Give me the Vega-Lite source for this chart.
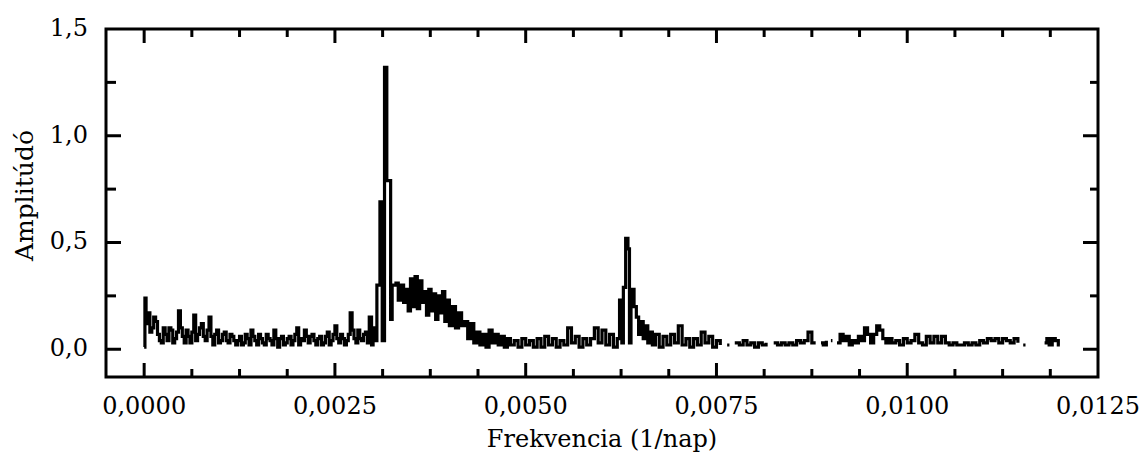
{
  "$schema": "https://vega.github.io/schema/vega-lite/v6.json",
  "width": 992,
  "height": 348,
  "autosize": "none",
  "padding": {"left": 106, "top": 29, "right": 43, "bottom": 80},
  "background": "white",
  "config": {
    "view": {"stroke": "black", "strokeWidth": 3},
    "font": "DejaVu Serif",
    "text": {"font": "DejaVu Serif", "fontSize": 24, "color": "black"},
    "rule": {"color": "black", "strokeWidth": 3}
  },
  "datasets": {
    "xticks": [
      {"t": 0, "k": "major"}, {"t": 0.000625, "k": "minor"}, {"t": 0.00125, "k": "minor"}, {"t": 0.001875, "k": "minor"},
      {"t": 0.0025, "k": "major"}, {"t": 0.003125, "k": "minor"}, {"t": 0.00375, "k": "minor"}, {"t": 0.004375, "k": "minor"},
      {"t": 0.005, "k": "major"}, {"t": 0.005625, "k": "minor"}, {"t": 0.00625, "k": "minor"}, {"t": 0.006875, "k": "minor"},
      {"t": 0.0075, "k": "major"}, {"t": 0.008125, "k": "minor"}, {"t": 0.00875, "k": "minor"}, {"t": 0.009375, "k": "minor"},
      {"t": 0.01, "k": "major"}, {"t": 0.010625, "k": "minor"}, {"t": 0.01125, "k": "minor"}, {"t": 0.011875, "k": "minor"}
    ],
    "yticks": [
      {"t": 0, "k": "major"}, {"t": 0.25, "k": "minor"}, {"t": 0.5, "k": "major"}, {"t": 0.75, "k": "minor"},
      {"t": 1.0, "k": "major"}, {"t": 1.25, "k": "minor"}
    ],
    "xlabels": [
      {"t": 0, "lab": "0,0000"}, {"t": 0.0025, "lab": "0,0025"}, {"t": 0.005, "lab": "0,0050"},
      {"t": 0.0075, "lab": "0,0075"}, {"t": 0.01, "lab": "0,0100"}, {"t": 0.0125, "lab": "0,0125"}
    ],
    "ylabels": [
      {"t": 0, "lab": "0,0"}, {"t": 0.5, "lab": "0,5"}, {"t": 1.0, "lab": "1,0"}, {"t": 1.5, "lab": "1,5"}
    ],
    "titles": [
      {"axis": "x", "lab": "Frekvencia (1/nap)"}, {"axis": "y", "lab": "Amplitúdó"}
    ]
  },
  "layer": [
    {
      "data": {
        "values": [
          {"f": 0.0, "a": 0.01}, {"f": 0.00001, "a": 0.24}, {"f": 0.000025, "a": 0.12}, {"f": 0.00005, "a": 0.17},
          {"f": 0.000075, "a": 0.08}, {"f": 0.0001, "a": 0.10}, {"f": 0.000125, "a": 0.15}, {"f": 0.00015, "a": 0.13},
          {"f": 0.000175, "a": 0.07}, {"f": 0.0002, "a": 0.04}, {"f": 0.000225, "a": 0.03}, {"f": 0.00025, "a": 0.10},
          {"f": 0.000275, "a": 0.07}, {"f": 0.0003, "a": 0.04}, {"f": 0.000325, "a": 0.10}, {"f": 0.00035, "a": 0.09},
          {"f": 0.000375, "a": 0.03}, {"f": 0.0004, "a": 0.05}, {"f": 0.000425, "a": 0.08}, {"f": 0.00045, "a": 0.18},
          {"f": 0.000475, "a": 0.10}, {"f": 0.0005, "a": 0.06}, {"f": 0.000525, "a": 0.03}, {"f": 0.00055, "a": 0.09},
          {"f": 0.000575, "a": 0.06}, {"f": 0.0006, "a": 0.03}, {"f": 0.000625, "a": 0.08}, {"f": 0.00065, "a": 0.16},
          {"f": 0.000675, "a": 0.04}, {"f": 0.0007, "a": 0.07}, {"f": 0.000725, "a": 0.10}, {"f": 0.00075, "a": 0.12},
          {"f": 0.000775, "a": 0.06}, {"f": 0.0008, "a": 0.04}, {"f": 0.000825, "a": 0.09}, {"f": 0.00085, "a": 0.15},
          {"f": 0.000875, "a": 0.06}, {"f": 0.0009, "a": 0.02}, {"f": 0.000925, "a": 0.07}, {"f": 0.00095, "a": 0.09},
          {"f": 0.000975, "a": 0.03}, {"f": 0.0010, "a": 0.04}, {"f": 0.001025, "a": 0.07}, {"f": 0.00105, "a": 0.08},
          {"f": 0.001075, "a": 0.04}, {"f": 0.0011, "a": 0.03}, {"f": 0.001125, "a": 0.07}, {"f": 0.00115, "a": 0.06},
          {"f": 0.001175, "a": 0.04}, {"f": 0.0012, "a": 0.02}, {"f": 0.001225, "a": 0.04}, {"f": 0.00125, "a": 0.06},
          {"f": 0.001275, "a": 0.02}, {"f": 0.0013, "a": 0.03}, {"f": 0.001325, "a": 0.07}, {"f": 0.00135, "a": 0.05},
          {"f": 0.001375, "a": 0.02}, {"f": 0.0014, "a": 0.09}, {"f": 0.001425, "a": 0.06}, {"f": 0.00145, "a": 0.04},
          {"f": 0.001475, "a": 0.02}, {"f": 0.0015, "a": 0.07}, {"f": 0.001525, "a": 0.05}, {"f": 0.00155, "a": 0.03},
          {"f": 0.001575, "a": 0.02}, {"f": 0.0016, "a": 0.07}, {"f": 0.001625, "a": 0.05}, {"f": 0.00165, "a": 0.04},
          {"f": 0.001675, "a": 0.02}, {"f": 0.0017, "a": 0.09}, {"f": 0.001725, "a": 0.05}, {"f": 0.00175, "a": 0.01},
          {"f": 0.001775, "a": 0.05}, {"f": 0.0018, "a": 0.06}, {"f": 0.001825, "a": 0.02}, {"f": 0.00185, "a": 0.03},
          {"f": 0.001875, "a": 0.05}, {"f": 0.0019, "a": 0.06}, {"f": 0.001925, "a": 0.02}, {"f": 0.00195, "a": 0.04},
          {"f": 0.001975, "a": 0.07}, {"f": 0.0020, "a": 0.10}, {"f": 0.002025, "a": 0.02}, {"f": 0.00205, "a": 0.05},
          {"f": 0.002075, "a": 0.04}, {"f": 0.0021, "a": 0.09}, {"f": 0.002125, "a": 0.06}, {"f": 0.00215, "a": 0.03},
          {"f": 0.002175, "a": 0.06}, {"f": 0.0022, "a": 0.07}, {"f": 0.002225, "a": 0.04}, {"f": 0.00225, "a": 0.02},
          {"f": 0.002275, "a": 0.05}, {"f": 0.0023, "a": 0.06}, {"f": 0.002325, "a": 0.02}, {"f": 0.00235, "a": 0.03},
          {"f": 0.002375, "a": 0.06}, {"f": 0.0024, "a": 0.08}, {"f": 0.002425, "a": 0.02}, {"f": 0.00245, "a": 0.04},
          {"f": 0.002475, "a": 0.07}, {"f": 0.0025, "a": 0.11}, {"f": 0.002525, "a": 0.05}, {"f": 0.00255, "a": 0.03},
          {"f": 0.002575, "a": 0.07}, {"f": 0.0026, "a": 0.05}, {"f": 0.002625, "a": 0.02}, {"f": 0.00265, "a": 0.04},
          {"f": 0.002675, "a": 0.07}, {"f": 0.0027, "a": 0.17}, {"f": 0.002725, "a": 0.09}, {"f": 0.00275, "a": 0.05},
          {"f": 0.002775, "a": 0.03}, {"f": 0.0028, "a": 0.09}, {"f": 0.002825, "a": 0.05}, {"f": 0.00285, "a": 0.04},
          {"f": 0.002875, "a": 0.07}, {"f": 0.0029, "a": 0.08}, {"f": 0.002925, "a": 0.03}, {"f": 0.00295, "a": 0.15},
          {"f": 0.00298, "a": 0.02}, {"f": 0.0030, "a": 0.10}, {"f": 0.00303, "a": 0.04}, {"f": 0.00305, "a": 0.30},
          {"f": 0.00309, "a": 0.69}, {"f": 0.00312, "a": 0.04}, {"f": 0.00315, "a": 1.32}, {"f": 0.00318, "a": 0.79},
          {"f": 0.00323, "a": 0.14}, {"f": 0.00325, "a": 0.30}, {"f": 0.0033, "a": 0.31}, {"f": 0.00333, "a": 0.23},
          {"f": 0.00336, "a": 0.30}, {"f": 0.0034, "a": 0.22}, {"f": 0.00343, "a": 0.28}, {"f": 0.00346, "a": 0.18},
          {"f": 0.00349, "a": 0.33}, {"f": 0.00352, "a": 0.20}, {"f": 0.00355, "a": 0.34}, {"f": 0.00358, "a": 0.19},
          {"f": 0.00361, "a": 0.32}, {"f": 0.00364, "a": 0.22}, {"f": 0.00367, "a": 0.27}, {"f": 0.0037, "a": 0.16},
          {"f": 0.00373, "a": 0.28}, {"f": 0.00376, "a": 0.18}, {"f": 0.00379, "a": 0.26}, {"f": 0.00382, "a": 0.14},
          {"f": 0.00385, "a": 0.25}, {"f": 0.00388, "a": 0.17}, {"f": 0.00391, "a": 0.27}, {"f": 0.00394, "a": 0.13},
          {"f": 0.00397, "a": 0.23}, {"f": 0.0040, "a": 0.11}, {"f": 0.00404, "a": 0.20}, {"f": 0.00408, "a": 0.10},
          {"f": 0.00412, "a": 0.17}, {"f": 0.00416, "a": 0.11}, {"f": 0.0042, "a": 0.13}, {"f": 0.00424, "a": 0.05},
          {"f": 0.00428, "a": 0.12}, {"f": 0.00432, "a": 0.03}, {"f": 0.00436, "a": 0.08}, {"f": 0.0044, "a": 0.02},
          {"f": 0.00444, "a": 0.07}, {"f": 0.00448, "a": 0.01}, {"f": 0.00452, "a": 0.09}, {"f": 0.00456, "a": 0.03},
          {"f": 0.0046, "a": 0.07}, {"f": 0.00464, "a": 0.02}, {"f": 0.00468, "a": 0.06}, {"f": 0.00472, "a": 0.01},
          {"f": 0.00476, "a": 0.05}, {"f": 0.0048, "a": 0.02}, {"f": 0.00485, "a": 0.04}, {"f": 0.0049, "a": 0.01},
          {"f": 0.00495, "a": 0.05}, {"f": 0.0050, "a": 0.02}, {"f": 0.00505, "a": 0.04}, {"f": 0.0051, "a": 0.01},
          {"f": 0.00515, "a": 0.05}, {"f": 0.0052, "a": 0.01}, {"f": 0.00525, "a": 0.06}, {"f": 0.0053, "a": 0.02},
          {"f": 0.00535, "a": 0.05}, {"f": 0.0054, "a": 0.01}, {"f": 0.00545, "a": 0.04}, {"f": 0.0055, "a": 0.02},
          {"f": 0.00555, "a": 0.10}, {"f": 0.0056, "a": 0.03}, {"f": 0.00565, "a": 0.06}, {"f": 0.0057, "a": 0.01},
          {"f": 0.00575, "a": 0.05}, {"f": 0.0058, "a": 0.02}, {"f": 0.00585, "a": 0.05}, {"f": 0.0059, "a": 0.10},
          {"f": 0.00595, "a": 0.03}, {"f": 0.0060, "a": 0.09}, {"f": 0.00605, "a": 0.02}, {"f": 0.0061, "a": 0.07},
          {"f": 0.00615, "a": 0.01}, {"f": 0.0062, "a": 0.05}, {"f": 0.00623, "a": 0.23}, {"f": 0.00626, "a": 0.03},
          {"f": 0.00628, "a": 0.29}, {"f": 0.00631, "a": 0.52}, {"f": 0.00634, "a": 0.47}, {"f": 0.00636, "a": 0.03},
          {"f": 0.00638, "a": 0.28}, {"f": 0.00642, "a": 0.20}, {"f": 0.00645, "a": 0.15}, {"f": 0.00648, "a": 0.07},
          {"f": 0.00651, "a": 0.13}, {"f": 0.00654, "a": 0.05}, {"f": 0.00657, "a": 0.11}, {"f": 0.0066, "a": 0.03},
          {"f": 0.00663, "a": 0.08}, {"f": 0.00666, "a": 0.02}, {"f": 0.0067, "a": 0.07}, {"f": 0.00675, "a": 0.01},
          {"f": 0.0068, "a": 0.06}, {"f": 0.00685, "a": 0.02}, {"f": 0.0069, "a": 0.07}, {"f": 0.00695, "a": 0.03},
          {"f": 0.0070, "a": 0.11}, {"f": 0.00705, "a": 0.02}, {"f": 0.0071, "a": 0.05}, {"f": 0.00715, "a": 0.01},
          {"f": 0.0072, "a": 0.05}, {"f": 0.00725, "a": 0.02}, {"f": 0.0073, "a": 0.08}, {"f": 0.00735, "a": 0.03},
          {"f": 0.0074, "a": 0.06}, {"f": 0.00745, "a": 0.01}, {"f": 0.0075, "a": 0.04}, {"f": 0.00755, "a": 0.02},
          {"f": 0.00758, "a": null}, {"f": 0.00764, "a": 0.02}, {"f": 0.00767, "a": 0.02}, {"f": 0.0077, "a": null},
          {"f": 0.00774, "a": 0.03}, {"f": 0.0078, "a": 0.02}, {"f": 0.00785, "a": 0.04}, {"f": 0.0079, "a": 0.02},
          {"f": 0.00795, "a": 0.03}, {"f": 0.0080, "a": 0.01}, {"f": 0.00805, "a": 0.03}, {"f": 0.0081, "a": 0.02},
          {"f": 0.00815, "a": 0.03}, {"f": 0.0082, "a": null}, {"f": 0.00825, "a": 0.03}, {"f": 0.0083, "a": 0.02},
          {"f": 0.00835, "a": 0.03}, {"f": 0.0084, "a": 0.02}, {"f": 0.00845, "a": 0.03}, {"f": 0.0085, "a": 0.02},
          {"f": 0.00855, "a": 0.04}, {"f": 0.0086, "a": 0.03}, {"f": 0.00865, "a": 0.04}, {"f": 0.0087, "a": 0.08},
          {"f": 0.00875, "a": 0.03}, {"f": 0.0088, "a": 0.03}, {"f": 0.00883, "a": null}, {"f": 0.00887, "a": 0.03},
          {"f": 0.0089, "a": 0.02}, {"f": 0.00894, "a": 0.04}, {"f": 0.00897, "a": null}, {"f": 0.0090, "a": 0.04},
          {"f": 0.00902, "a": 0.04}, {"f": 0.00904, "a": null}, {"f": 0.00908, "a": 0.03}, {"f": 0.00912, "a": 0.07},
          {"f": 0.00916, "a": 0.04}, {"f": 0.0092, "a": 0.06}, {"f": 0.00924, "a": 0.02}, {"f": 0.00928, "a": 0.04},
          {"f": 0.00932, "a": 0.03}, {"f": 0.00936, "a": 0.06}, {"f": 0.0094, "a": 0.04}, {"f": 0.00944, "a": 0.10},
          {"f": 0.00948, "a": 0.07}, {"f": 0.00952, "a": 0.03}, {"f": 0.00956, "a": 0.07}, {"f": 0.0096, "a": 0.11},
          {"f": 0.00964, "a": 0.09}, {"f": 0.00968, "a": 0.05}, {"f": 0.00972, "a": 0.03}, {"f": 0.00976, "a": 0.05},
          {"f": 0.0098, "a": 0.03}, {"f": 0.00985, "a": 0.04}, {"f": 0.0099, "a": 0.02}, {"f": 0.00995, "a": 0.05},
          {"f": 0.0100, "a": 0.03}, {"f": 0.01005, "a": 0.04}, {"f": 0.0101, "a": 0.07}, {"f": 0.01015, "a": 0.03},
          {"f": 0.0102, "a": 0.02}, {"f": 0.01025, "a": 0.06}, {"f": 0.0103, "a": 0.03}, {"f": 0.01035, "a": 0.06},
          {"f": 0.0104, "a": 0.03}, {"f": 0.01045, "a": 0.06}, {"f": 0.0105, "a": 0.03}, {"f": 0.01055, "a": 0.02},
          {"f": 0.0106, "a": 0.03}, {"f": 0.01065, "a": 0.02}, {"f": 0.0107, "a": 0.02}, {"f": 0.01075, "a": 0.03},
          {"f": 0.0108, "a": 0.02}, {"f": 0.01085, "a": 0.03}, {"f": 0.0109, "a": 0.02}, {"f": 0.01095, "a": 0.04},
          {"f": 0.0110, "a": 0.03}, {"f": 0.01105, "a": 0.05}, {"f": 0.0111, "a": 0.04}, {"f": 0.01115, "a": 0.05},
          {"f": 0.0112, "a": 0.03}, {"f": 0.01125, "a": 0.05}, {"f": 0.0113, "a": 0.04}, {"f": 0.01135, "a": 0.03},
          {"f": 0.0114, "a": 0.05}, {"f": 0.01145, "a": 0.03}, {"f": 0.01148, "a": null}, {"f": 0.01152, "a": 0.02},
          {"f": 0.01155, "a": 0.02}, {"f": 0.01157, "a": null}, {"f": 0.0118, "a": 0.03}, {"f": 0.01183, "a": 0.05},
          {"f": 0.01186, "a": 0.02}, {"f": 0.0119, "a": 0.05}, {"f": 0.01194, "a": 0.04}, {"f": 0.01198, "a": 0.02},
          {"f": 0.0120, "a": 0.02}
        ]
      },
      "mark": {"type": "line", "interpolate": "step-after", "color": "black", "strokeWidth": 3.2, "invalid": "break-paths-show-domains"},
      "encoding": {
        "x": {"field": "f", "type": "quantitative", "scale": {"domain": [-0.0005, 0.0125], "nice": false, "zero": false}, "axis": null},
        "y": {"field": "a", "type": "quantitative", "scale": {"domain": [-0.13, 1.5], "nice": false, "zero": false}, "axis": null}
      }
    },
    {
      "data": {"name": "xticks"},
      "transform": [{"filter": "datum.k == 'major'"}],
      "layer": [
        {
          "mark": "rule",
          "encoding": {
            "x": {"field": "t", "type": "quantitative", "axis": null},
            "y": {"datum": -0.13, "type": "quantitative", "axis": null},
            "y2": {"datum": -0.0644}
          }
        },
        {
          "mark": "rule",
          "encoding": {
            "x": {"field": "t", "type": "quantitative", "axis": null},
            "y": {"datum": 1.5, "type": "quantitative", "axis": null},
            "y2": {"datum": 1.4344}
          }
        }
      ]
    },
    {
      "data": {"name": "xticks"},
      "transform": [{"filter": "datum.k == 'minor'"}],
      "layer": [
        {
          "mark": "rule",
          "encoding": {
            "x": {"field": "t", "type": "quantitative", "axis": null},
            "y": {"datum": -0.13, "type": "quantitative", "axis": null},
            "y2": {"datum": -0.0925}
          }
        },
        {
          "mark": "rule",
          "encoding": {
            "x": {"field": "t", "type": "quantitative", "axis": null},
            "y": {"datum": 1.5, "type": "quantitative", "axis": null},
            "y2": {"datum": 1.4625}
          }
        }
      ]
    },
    {
      "data": {"name": "yticks"},
      "transform": [{"filter": "datum.k == 'major'"}],
      "layer": [
        {
          "mark": "rule",
          "encoding": {
            "y": {"field": "t", "type": "quantitative", "axis": null},
            "x": {"datum": -0.0005, "type": "quantitative", "axis": null},
            "x2": {"datum": -0.0003034}
          }
        },
        {
          "mark": "rule",
          "encoding": {
            "y": {"field": "t", "type": "quantitative", "axis": null},
            "x": {"datum": 0.0125, "type": "quantitative", "axis": null},
            "x2": {"datum": 0.0123034}
          }
        }
      ]
    },
    {
      "data": {"name": "yticks"},
      "transform": [{"filter": "datum.k == 'minor'"}],
      "layer": [
        {
          "mark": "rule",
          "encoding": {
            "y": {"field": "t", "type": "quantitative", "axis": null},
            "x": {"datum": -0.0005, "type": "quantitative", "axis": null},
            "x2": {"datum": -0.000369}
          }
        },
        {
          "mark": "rule",
          "encoding": {
            "y": {"field": "t", "type": "quantitative", "axis": null},
            "x": {"datum": 0.0125, "type": "quantitative", "axis": null},
            "x2": {"datum": 0.0123952}
          }
        }
      ]
    },
    {
      "data": {"name": "xlabels"},
      "mark": {"type": "text", "align": "center", "baseline": "middle", "dy": 30},
      "encoding": {
        "x": {"field": "t", "type": "quantitative", "axis": null},
        "y": {"datum": -0.13, "type": "quantitative", "axis": null},
        "text": {"field": "lab"}
      }
    },
    {
      "data": {"name": "ylabels"},
      "mark": {"type": "text", "align": "right", "baseline": "middle", "dx": -18},
      "encoding": {
        "y": {"field": "t", "type": "quantitative", "axis": null},
        "x": {"datum": -0.0005, "type": "quantitative", "axis": null},
        "text": {"field": "lab"}
      }
    },
    {
      "data": {"name": "titles"},
      "transform": [{"filter": "datum.axis == 'x'"}],
      "mark": {"type": "text", "align": "center", "baseline": "middle", "dy": 63},
      "encoding": {
        "x": {"datum": 0.006, "type": "quantitative", "axis": null},
        "y": {"datum": -0.13, "type": "quantitative", "axis": null},
        "text": {"field": "lab"}
      }
    },
    {
      "data": {"name": "titles"},
      "transform": [{"filter": "datum.axis == 'y'"}],
      "mark": {"type": "text", "align": "center", "baseline": "middle", "angle": 270, "dy": -81, "fontSize": 25},
      "encoding": {
        "x": {"datum": -0.0005, "type": "quantitative", "axis": null},
        "y": {"datum": 0.72, "type": "quantitative", "axis": null},
        "text": {"field": "lab"}
      }
    }
  ]
}
